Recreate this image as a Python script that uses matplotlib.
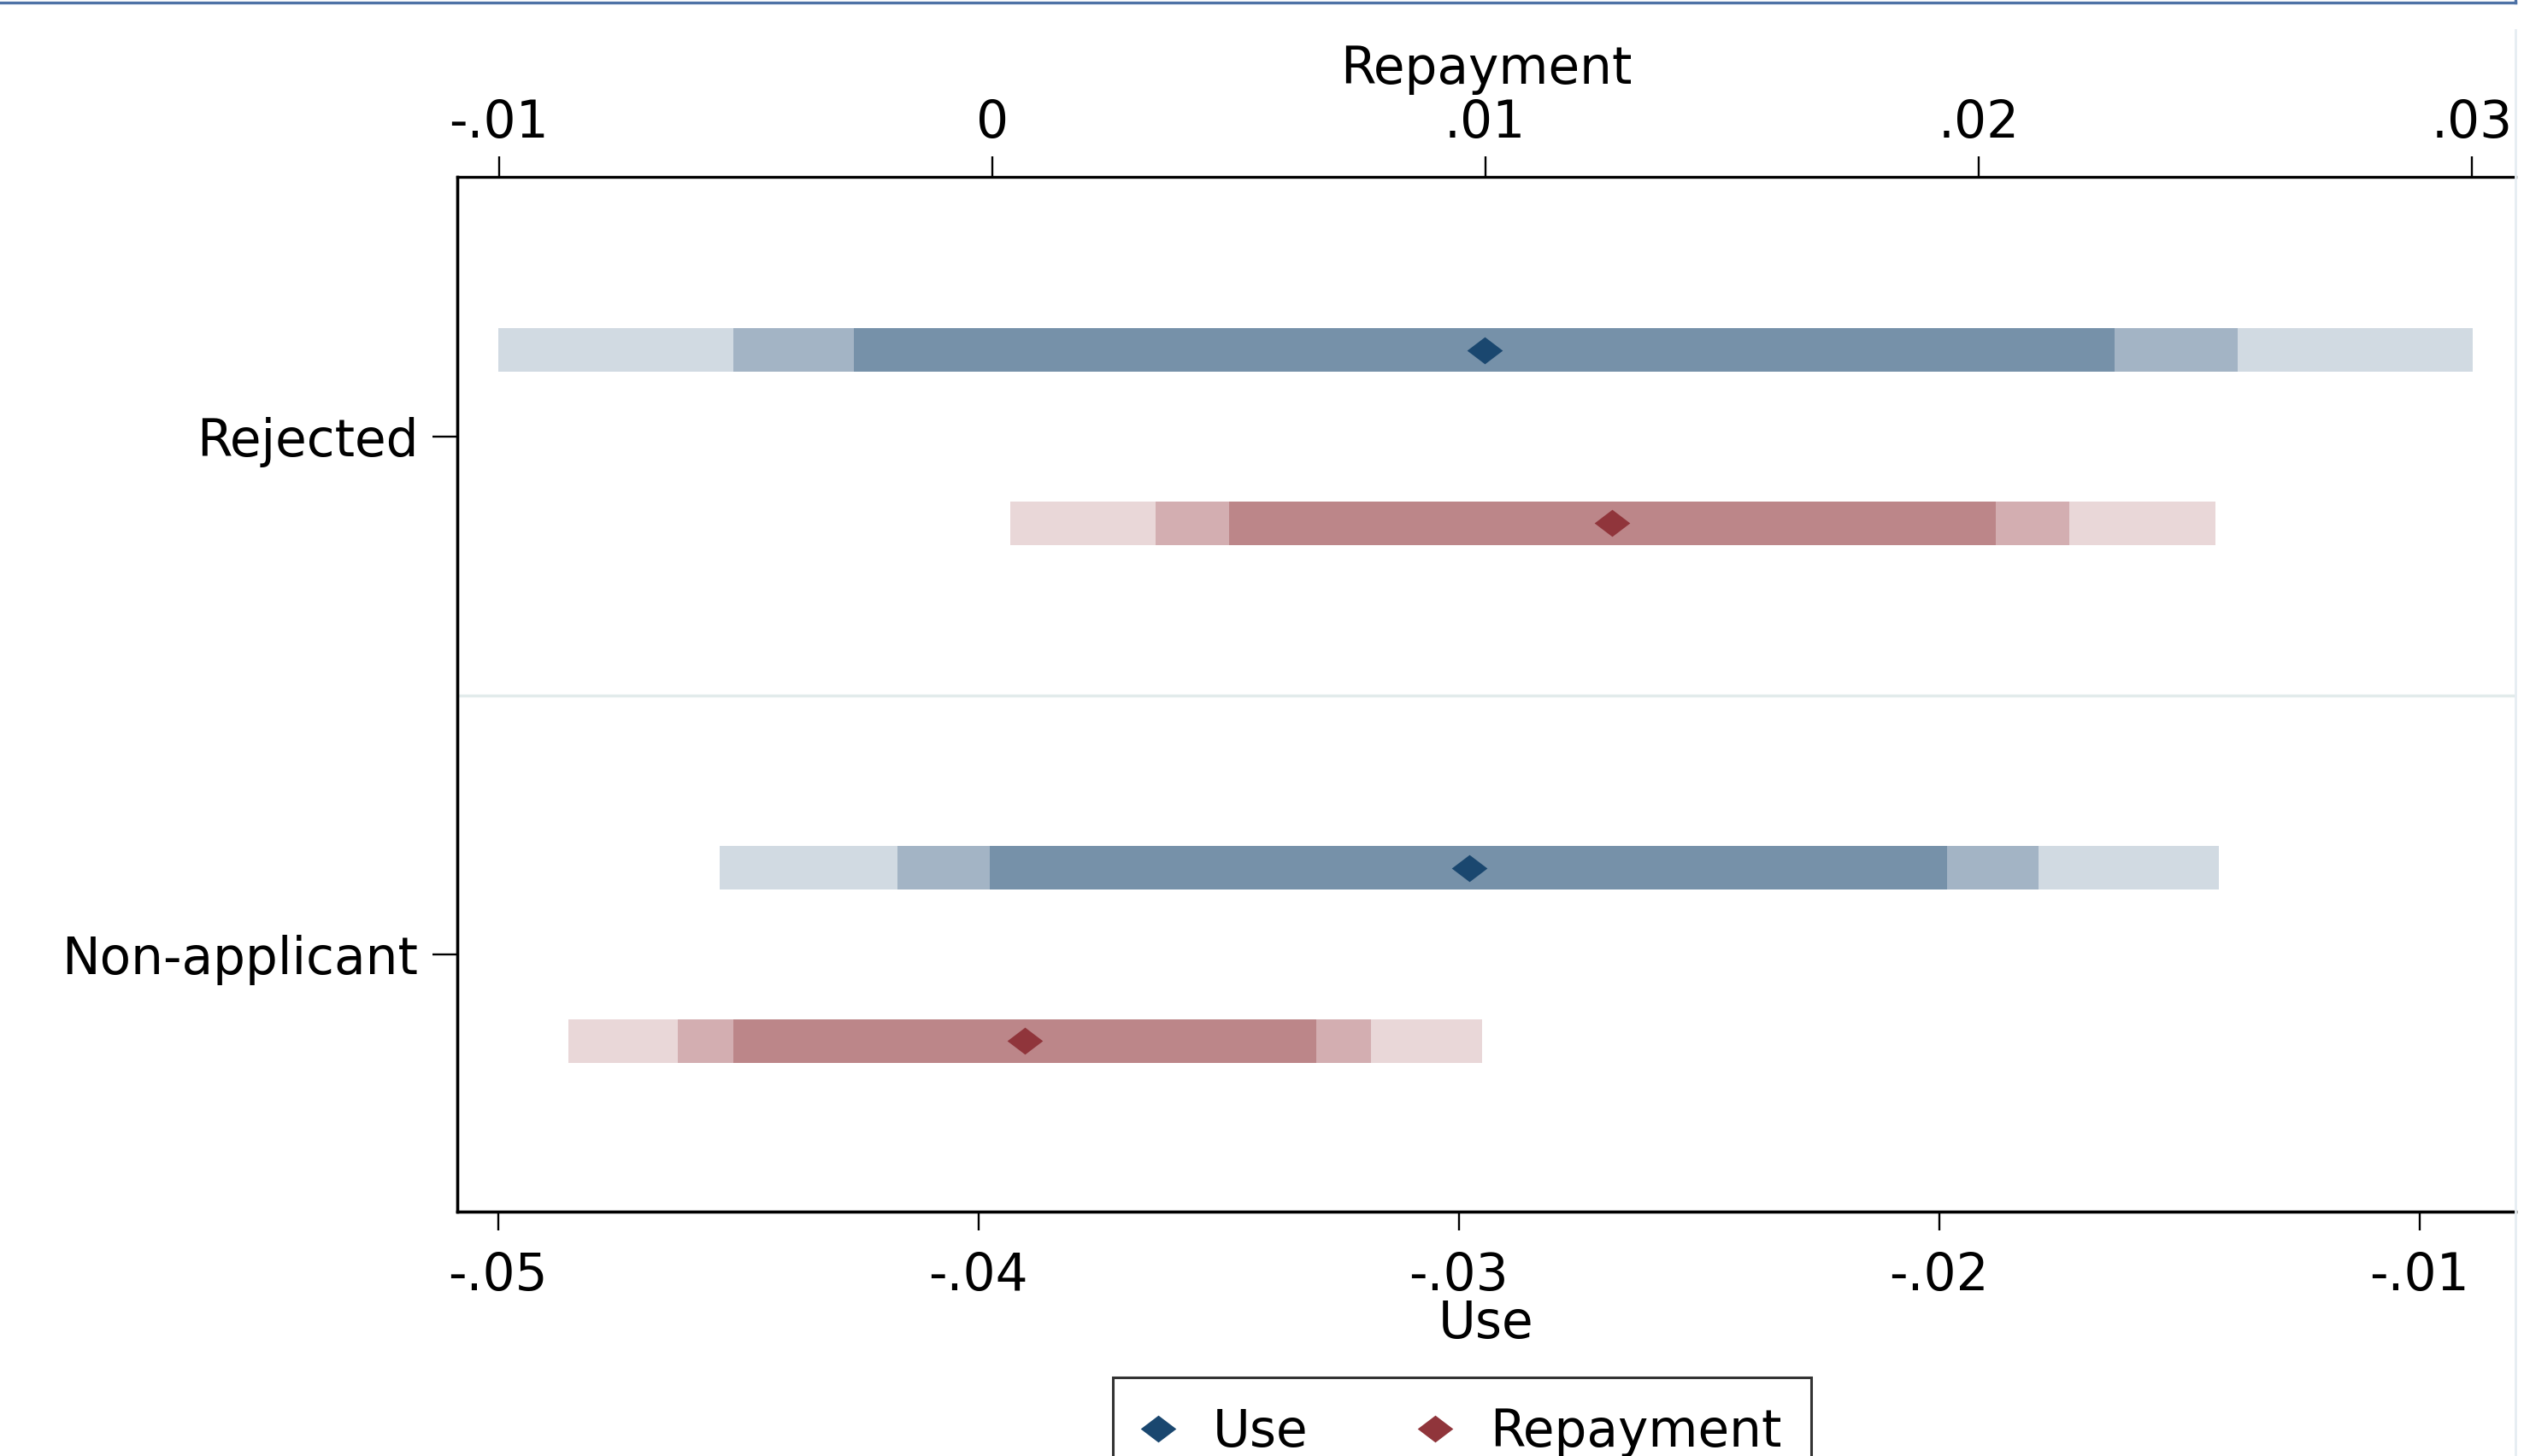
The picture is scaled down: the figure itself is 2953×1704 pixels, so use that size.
import matplotlib
matplotlib.use("Agg")
import matplotlib.pyplot as plt
from matplotlib.lines import Line2D

# ---------------- data ----------------
categories = ["Rejected", "Non-applicant"]
cat_pos = [1, 0]

# Use (bottom axis): point estimate and 90/95/99% intervals
use_point = [-0.02947, -0.02979]
use_lo90 = [-0.04260, -0.03977]
use_hi90 = [-0.01635, -0.01984]
use_lo95 = [-0.04510, -0.04169]
use_hi95 = [-0.01379, -0.01793]
use_lo99 = [-0.04999, -0.04539]
use_hi99 = [-0.00890, -0.01418]

# Repayment (top axis)
rep_point = [0.01257, 0.00066]
rep_lo90 = [0.00480, -0.00525]
rep_hi90 = [0.02035, 0.00657]
rep_lo95 = [0.00331, -0.00637]
rep_hi95 = [0.02184, 0.00769]
rep_lo99 = [0.00036, -0.00859]
rep_hi99 = [0.02480, 0.00993]

use_ticks = [-0.05, -0.04, -0.03, -0.02, -0.01]
use_ticklabels = ["-.05", "-.04", "-.03", "-.02", "-.01"]
rep_ticks = [-0.01, 0.0, 0.01, 0.02, 0.03]
rep_ticklabels = ["-.01", "0", ".01", ".02", ".03"]

series_labels = ["Use", "Repayment"]

# ---------------- style ----------------
W, H, DPI = 2953, 1704, 100
FS = 43
plt.rcParams["font.family"] = ["DejaVu Sans"]

navy = "#1A476F"
maroon = "#90353B"
blue_shades = ["#D1DAE2", "#A3B4C5", "#7691A9"]   # 99, 95, 90
red_shades = ["#E9D7D8", "#D3AEB1", "#BC8689"]

diamond = [(-1, 0), (0, 0.76), (1, 0), (0, -0.76), (-1, 0)]

fig = plt.figure(figsize=(W / DPI, H / DPI), dpi=DPI)
fig.patch.set_facecolor("white")

ax_l, ax_r, ax_t, ax_b = 535, 2943, 207, 1418
ax = fig.add_axes([ax_l / W, 1 - ax_b / H, (ax_r - ax_l) / W, (ax_b - ax_t) / H])
ax2 = ax.twiny()

off = 0.167
bh = 0.084

for i, y in enumerate(cat_pos):
    yb = y + off
    yr = y - off
    for lo, hi, c in [(use_lo99, use_hi99, blue_shades[0]),
                      (use_lo95, use_hi95, blue_shades[1]),
                      (use_lo90, use_hi90, blue_shades[2])]:
        ax.barh(yb, hi[i] - lo[i], left=lo[i], height=bh, color=c, linewidth=0, zorder=2)
    for lo, hi, c in [(rep_lo99, rep_hi99, red_shades[0]),
                      (rep_lo95, rep_hi95, red_shades[1]),
                      (rep_lo90, rep_hi90, red_shades[2])]:
        ax2.barh(yr, hi[i] - lo[i], left=lo[i], height=bh, color=c, linewidth=0, zorder=2)

ax.plot(use_point, [p + off for p in cat_pos], linestyle="none", marker=diamond,
        markersize=30, color=navy, markeredgewidth=0, zorder=5)
ax2.plot(rep_point, [p - off for p in cat_pos], linestyle="none", marker=diamond,
         markersize=30, color=maroon, markeredgewidth=0, zorder=5)

ax.axhline(0.5, color="#E2EBEB", lw=2.5, zorder=1)

ax.set_ylim(-0.4967, 1.5017)
ax.set_xlim(-0.050848, -0.008007)
ax2.set_xlim(-0.010845, 0.030889)

ax.set_xticks(use_ticks, use_ticklabels)
ax2.set_xticks(rep_ticks, rep_ticklabels)
ax.set_yticks(cat_pos, categories)

for a in (ax, ax2):
    for s in a.spines.values():
        s.set_linewidth(2.4)
        s.set_color("black")
    a.spines["right"].set_visible(False)
ax.spines["top"].set_visible(False)

ax.tick_params(axis="x", direction="out", length=16, width=1.7, pad=17, labelsize=FS)
ax.tick_params(axis="y", direction="out", length=21, width=1.7, pad=12, labelsize=FS)
ax2.tick_params(axis="x", direction="out", length=17, width=1.7, pad=7, labelsize=FS)

ax.set_xlabel("Use", fontsize=FS, labelpad=-2)
ax2.set_xlabel("Repayment", fontsize=FS, labelpad=12)

# legend
handles = [Line2D([], [], linestyle="none", marker=diamond, markersize=30,
                  color=navy, markeredgewidth=0),
           Line2D([], [], linestyle="none", marker=diamond, markersize=30,
                  color=maroon, markeredgewidth=0)]
leg = fig.legend(handles, series_labels, loc="upper left",
                 bbox_to_anchor=(1302 / W, 1 - 1612 / H), ncol=2, fontsize=FS,
                 frameon=True, fancybox=False, borderpad=0.58, handlelength=0.6,
                 handletextpad=0.77, columnspacing=2.2, borderaxespad=0)
leg.get_frame().set_edgecolor("black")
leg.get_frame().set_linewidth(2.2)

# outer decorative frame lines
fig.add_artist(Line2D([0, 2943 / W], [1 - 2.5 / H, 1 - 2.5 / H], transform=fig.transFigure,
                      color="#4E72A6", lw=2.4))
fig.add_artist(Line2D([2943 / W, 2943 / W], [1 - 2.5 / H, 1.0], transform=fig.transFigure,
                      color="#4E72A6", lw=2.4))
fig.add_artist(Line2D([2943 / W, 2943 / W], [0, 1 - 35 / H], transform=fig.transFigure,
                      color="#E6EDF2", lw=2.0))

fig.savefig("out.png", dpi=DPI, facecolor="white")
